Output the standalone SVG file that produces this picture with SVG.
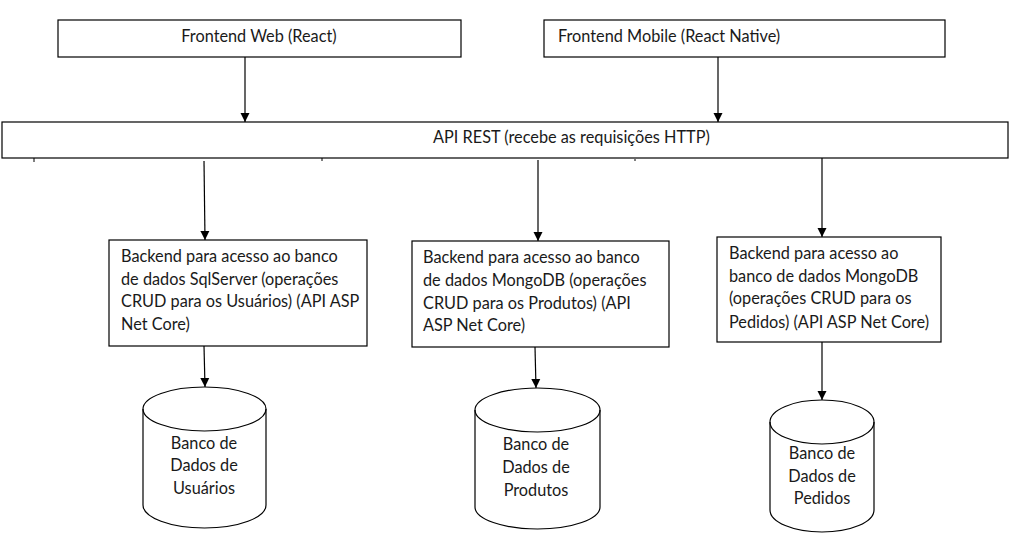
<svg xmlns="http://www.w3.org/2000/svg" width="1030" height="548" viewBox="0 0 1030 548">
<defs>
<marker id="arr" markerWidth="10" markerHeight="10" refX="9" refY="5" orient="auto" markerUnits="userSpaceOnUse">
<path d="M0,0.5 L9,5 L0,9.5 Z" fill="#000"/>
</marker>
<style>
.box{fill:#fff;stroke:#000;stroke-width:1.2}
.t{font-family:Lato,"Liberation Sans",sans-serif;font-size:16.3px;fill:#1a1a1a}
.c{text-anchor:middle}
.ln{stroke:#000;stroke-width:1.2;fill:none}
.tick{stroke:#000;stroke-width:1}
</style>
</defs>
<rect width="1030" height="548" fill="#fff"/>
<g id="frontend-web">
<rect class="box" x="58" y="20" width="403" height="37"/>
<text class="t c" x="259" y="42">Frontend Web (React)</text>
</g>
<g id="frontend-mobile">
<rect class="box" x="544" y="20" width="401" height="37"/>
<text class="t" x="558" y="42">Frontend Mobile (React Native)</text>
</g>
<g id="api-rest">
<rect class="box" x="2" y="122" width="1006" height="36"/>
<text class="t" x="433" y="143">API REST (recebe as requisições HTTP)</text>
</g>
<g id="backend-usuarios">
<rect class="box" x="109" y="240" width="258" height="106"/>
<text class="t" x="121" y="262">Backend para acesso ao banco</text>
<text class="t" x="121" y="285">de dados SqlServer (operações</text>
<text class="t" x="121" y="307">CRUD para os Usuários) (API ASP</text>
<text class="t" x="121" y="330">Net Core)</text>
</g>
<g id="backend-produtos">
<rect class="box" x="412" y="241" width="257" height="106"/>
<text class="t" x="423" y="263">Backend para acesso ao banco</text>
<text class="t" x="423" y="286">de dados MongoDB (operações</text>
<text class="t" x="423" y="309">CRUD para os Produtos) (API</text>
<text class="t" x="423" y="331">ASP Net Core)</text>
</g>
<g id="backend-pedidos">
<rect class="box" x="717" y="237" width="224" height="105"/>
<text class="t" x="729" y="259">Backend para acesso ao</text>
<text class="t" x="729" y="282">banco de dados MongoDB</text>
<text class="t" x="729" y="304">(operações CRUD para os</text>
<text class="t" x="729" y="328">Pedidos) (API ASP Net Core)</text>
</g>
<g id="db-usuarios">
<path class="box" d="M143,409 L143,505 A61.5,23 0 0 0 266,505 L266,409 A61.5,22 0 0 0 143,409 Z"/>
<path class="ln" d="M143,409 A61.5,22 0 0 0 266,409"/>
<text class="t c" x="204" y="449">Banco de</text>
<text class="t c" x="204" y="471">Dados de</text>
<text class="t c" x="204" y="494">Usuários</text>
</g>
<g id="db-produtos">
<path class="box" d="M475,410 L475,507 A62.5,22 0 0 0 600,507 L600,410 A62.5,22 0 0 0 475,410 Z"/>
<path class="ln" d="M475,410 A62.5,22 0 0 0 600,410"/>
<text class="t c" x="536" y="450">Banco de</text>
<text class="t c" x="536" y="473">Dados de</text>
<text class="t c" x="536" y="496">Produtos</text>
</g>
<g id="db-pedidos">
<path class="box" d="M770,422 L770,510 A52,22 0 0 0 874,510 L874,422 A52,22 0 0 0 770,422 Z"/>
<path class="ln" d="M770,422 A52,22 0 0 0 874,422"/>
<text class="t c" x="822" y="459">Banco de</text>
<text class="t c" x="822" y="482">Dados de</text>
<text class="t c" x="822" y="504">Pedidos</text>
</g>
<g id="connectors">
<line class="ln" x1="245" y1="57" x2="245" y2="122" marker-end="url(#arr)"/>
<line class="ln" x1="718" y1="57" x2="718" y2="122" marker-end="url(#arr)"/>
<line class="ln" x1="204" y1="161" x2="205" y2="240" marker-end="url(#arr)"/>
<line class="ln" x1="538" y1="160" x2="538" y2="241" marker-end="url(#arr)"/>
<line class="ln" x1="822" y1="158" x2="822" y2="237" marker-end="url(#arr)"/>
<line class="ln" x1="204" y1="346" x2="205" y2="387" marker-end="url(#arr)"/>
<line class="ln" x1="535" y1="347" x2="536" y2="388" marker-end="url(#arr)"/>
<line class="ln" x1="822" y1="342" x2="822" y2="400" marker-end="url(#arr)"/>
<line class="tick" x1="34" y1="158" x2="34" y2="162"/>
<line class="tick" x1="322" y1="158" x2="322" y2="161"/>
<line class="tick" x1="635" y1="159" x2="635" y2="161"/>
</g>
</svg>
